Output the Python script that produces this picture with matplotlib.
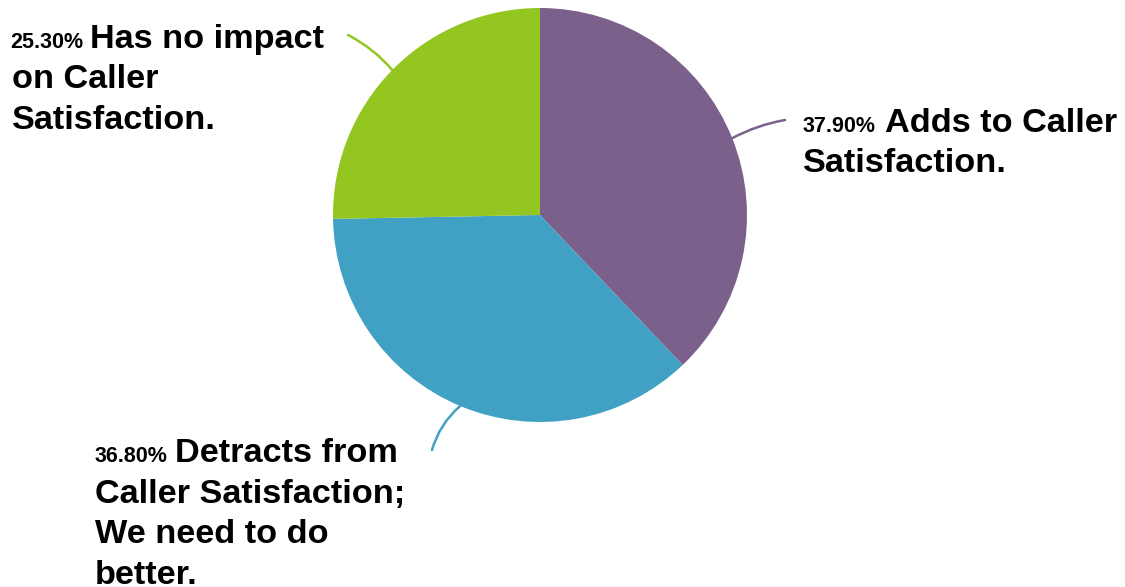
import matplotlib.pyplot as plt
import numpy as np

plt.rcParams['font.family'] = ['Liberation Sans', 'DejaVu Sans']

# data
shares = [37.9, 36.8, 25.3]
pct_labels = ['37.90%', '36.80%', '25.30%']
label_lines = [
    ['Adds to Caller', 'Satisfaction.'],
    ['Detracts from', 'Caller Satisfaction;', 'We need to do', 'better.'],
    ['Has no impact', 'on Caller', 'Satisfaction.'],
]
colors = ['#7B608C', '#40A1C4', '#94C622']

W, H = 1125, 587
fig = plt.figure(figsize=(11.25, 5.87), dpi=100)
ax = fig.add_axes([0, 0, 1, 1])

cx, cy, r = 540, H - 215, 207
wedges, _ = ax.pie(shares, colors=colors, startangle=90, counterclock=False,
                   center=(cx, cy), radius=r, frame=True,
                   wedgeprops=dict(linewidth=0))
ax.set_xlim(0, W)
ax.set_ylim(0, H)
ax.set_aspect('equal')
ax.axis('off')

# label layout (pixel coords from top)
layout = [
    dict(px=803, fx=885, lx=803, y=132, end=(785, 120), rad=0.08),
    dict(px=95, fx=175, lx=95, y=462, end=(432, 450), rad=-0.15),
    dict(px=10, fx=90, lx=12, y=48, end=(348, 35), rad=-0.1),
]
step = 40.5

for w, pct, lines, lo, col in zip(wedges, pct_labels, label_lines, layout, colors):
    mid = np.deg2rad((w.theta1 + w.theta2) / 2)
    start = (cx + r * np.cos(mid), cy + r * np.sin(mid))
    ex, ey = lo['end']
    ax.annotate('', xy=start, xytext=(ex, H - ey),
                arrowprops=dict(arrowstyle='-', color=col, lw=1.8,
                                connectionstyle=f"arc3,rad={lo['rad']}",
                                shrinkA=0, shrinkB=0))
    ax.text(lo['px'], H - lo['y'], pct, fontsize=15.5, fontweight='bold',
            va='baseline', ha='left')
    ax.text(lo['fx'], H - lo['y'], lines[0], fontsize=24.7, fontweight='bold',
            va='baseline', ha='left')
    for i, line in enumerate(lines[1:], start=1):
        ax.text(lo['lx'], H - lo['y'] - i * step, line, fontsize=24.7,
                fontweight='bold', va='baseline', ha='left')

fig.savefig('out.png', dpi=100)
